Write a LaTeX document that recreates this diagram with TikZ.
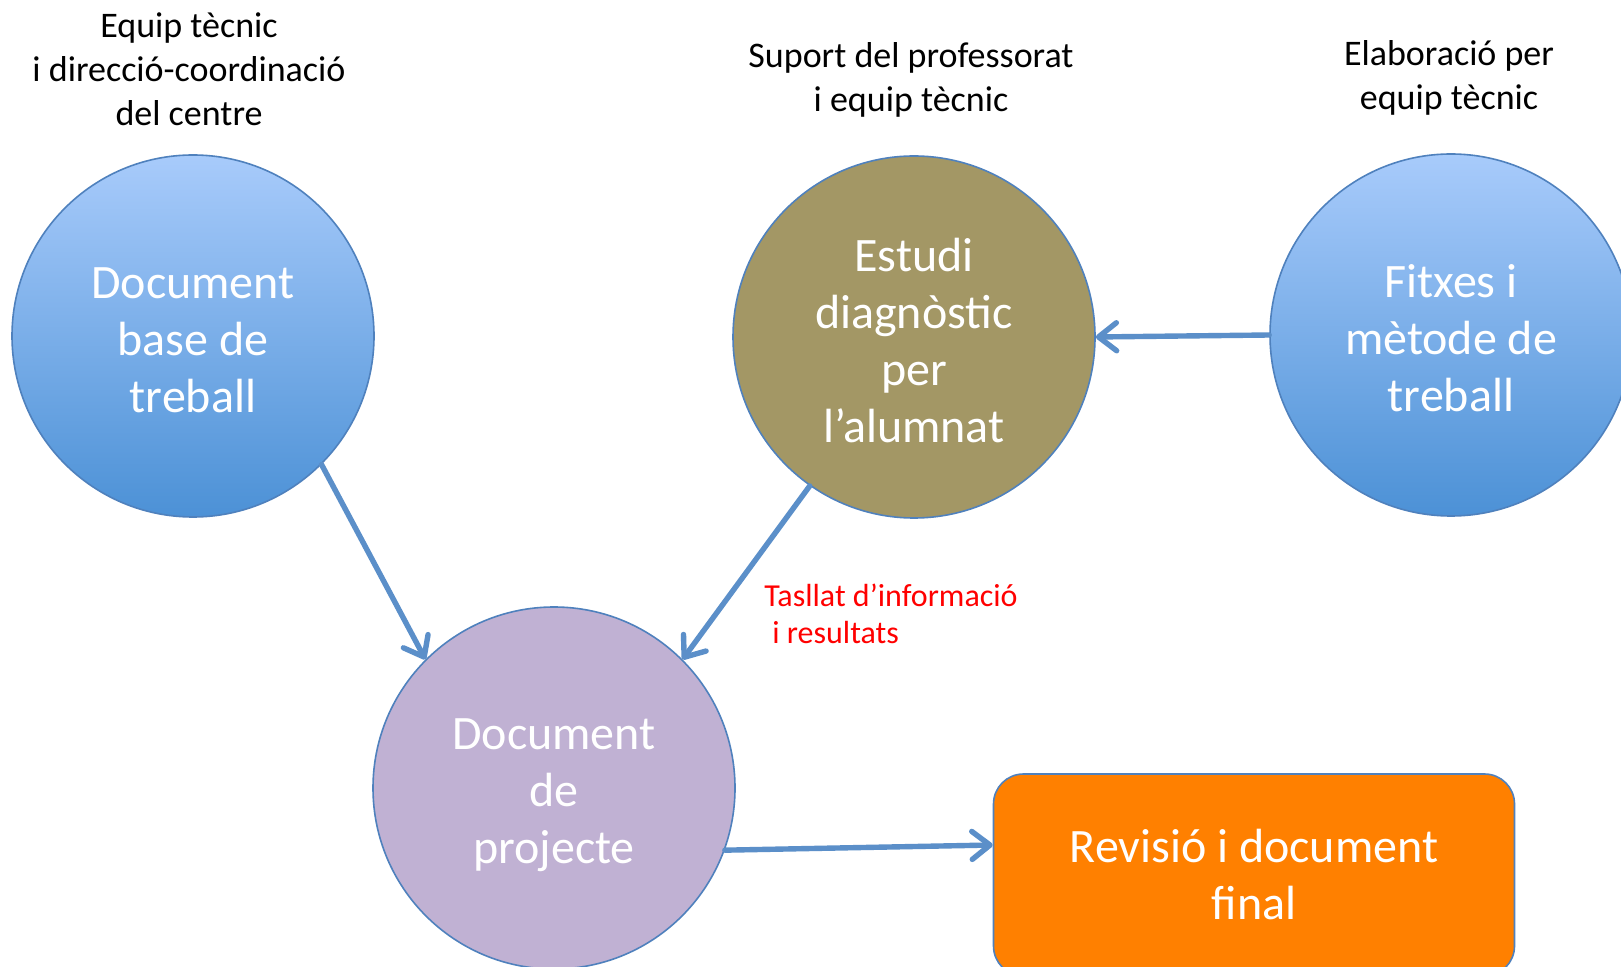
\documentclass[tikz,border=0pt]{standalone}
\usepackage{fontspec}
\setmainfont{Carlito}
\usetikzlibrary{arrows.meta}

\definecolor{lineblue}{RGB}{79,129,189}
\definecolor{arrowblue}{RGB}{91,143,201}
\definecolor{skytop}{RGB}{168,203,251}
\definecolor{skybottom}{RGB}{76,145,214}
\definecolor{olive}{RGB}{163,151,101}
\definecolor{lilac}{RGB}{192,177,211}
\definecolor{finalorange}{RGB}{255,128,0}

\newcommand\padtop[1]{\rule{0pt}{#1}}

\begin{document}
\begin{tikzpicture}[x=0.5pt,y=-0.5pt,
  bubble/.style={circle, draw=lineblue, line width=0.8pt, minimum size=181pt, inner sep=0pt,
    align=center, text=white, font=\fontsize{24}{28.5}\selectfont},
  bluebubble/.style={bubble, top color=skytop, bottom color=skybottom},
  note/.style={align=center, font=\fontsize{18}{22}\selectfont},
  link/.style={draw=arrowblue, line width=2.7pt, line cap=round,
    -{Straight Barb[length=9pt,width=14pt,round]}}]

\clip (0,0) rectangle (1621,967);
\fill[white] (0,0) rectangle (1621,967);

\begin{scope}
\node[bluebubble] (base) at (193,336) {\padtop{20pt}Document\\base de\\treball};
\node[bubble, fill=olive] (diag) at (914,337) {\padtop{20.5pt}Estudi\\diagnòstic\\per\\l’alumnat};
\node[bluebubble] (fitx) at (1451,335) {\padtop{19.5pt}Fitxes i\\mètode de\\treball};
\node[bubble, fill=lilac] (proj) at (554,788) {\padtop{22.5pt}Document\\de\\projecte};
\node[rectangle, rounded corners=15pt, draw=lineblue, line width=0.8pt, fill=finalorange,
  minimum width=260.5pt, minimum height=101pt, align=center, text=white,
  font=\fontsize{24}{28.5}\selectfont] (final) at (1254,875) {Revisió i document\\final};

\node[note] (tbase) at (189,69) {Equip tècnic\\i direcció-coordinació\\del centre};
\node[note] (tdiag) at (911,80) {Suport del professorat\\i equip tècnic};
\node[note] (tfitx) at (1449,78) {Elaboració per\\equip tècnic};
\node[red, align=left, anchor=north west, inner sep=0pt, font=\fontsize{16}{18.5}\selectfont]
  (tallat) at (764,584) {Tasllat d’informació\\\hspace*{0.25em}i resultats};
\end{scope}

\draw[link] (base.-45) -- (proj.135);
\draw[link] (diag.235) -- (proj.45);
\draw[link] (fitx.180) -- (diag.0);
\draw[link] (proj.-20) -- ([yshift=15pt]final.west);

\end{tikzpicture}
\end{document}
